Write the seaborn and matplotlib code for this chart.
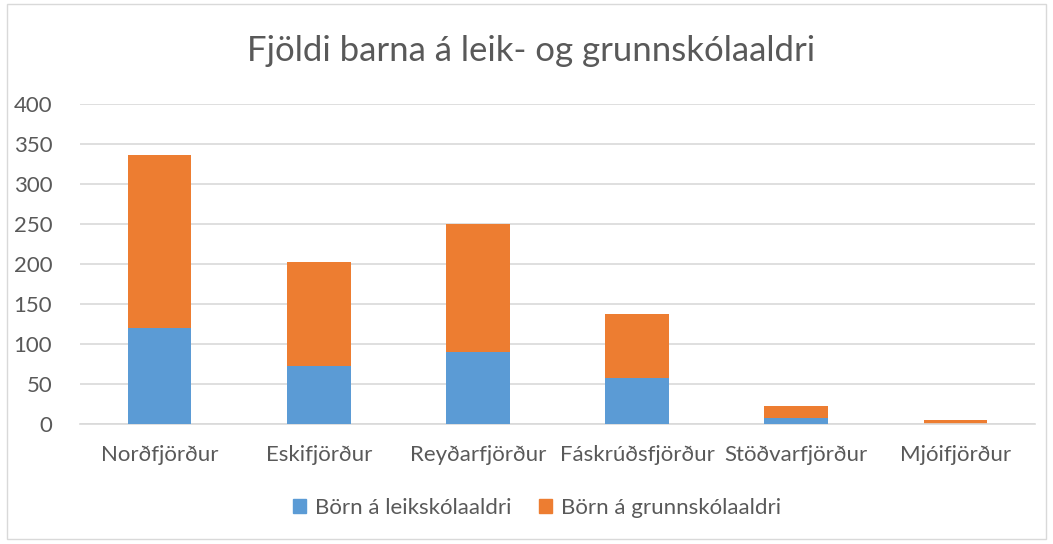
import pandas as pd
import matplotlib
matplotlib.use("Agg")
import matplotlib.pyplot as plt
import seaborn as sns
from matplotlib.patches import Patch, Rectangle

# Data
towns = ["Norðfjörður", "Eskifjörður", "Reyðarfjörður", "Fáskrúðsfjörður",
         "Stöðvarfjörður", "Mjóifjörður"]
leikskoli = [120, 73, 90, 57, 7, 0]
grunnskoli = [216, 130, 160, 80, 15, 5]

df = pd.DataFrame({"town": towns, "leik": leikskoli, "grunn": grunnskoli})
df["total"] = df["leik"] + df["grunn"]

blue = "#5B9BD5"
orange = "#ED7D31"
grey = "#595959"

sns.set_style("white")
plt.rcParams["font.family"] = ["Lato", "DejaVu Sans"]

fig = plt.figure(figsize=(10.53, 5.44), dpi=100)
ax = fig.add_axes([0.076, 0.2206, 0.907, 0.5882])

# stacked bars: total (orange) drawn first, blue part on top of it
sns.barplot(data=df, x="town", y="total", color=orange, width=0.4,
            saturation=1, linewidth=0, ax=ax, zorder=2)
sns.barplot(data=df, x="town", y="leik", color=blue, width=0.4,
            saturation=1, linewidth=0, ax=ax, zorder=3)

ax.set_ylim(0, 400)
ax.set_yticks(range(0, 401, 50))
ax.set_xlim(-0.5, len(towns) - 0.5)
ax.yaxis.grid(True, color="#D9D9D9", linewidth=1.2, zorder=0)
ax.set_axisbelow(True)
for s in ["top", "right", "left"]:
    ax.spines[s].set_visible(False)
ax.spines["bottom"].set_color("#D9D9D9")
ax.spines["bottom"].set_linewidth(1.2)
ax.set_xlabel("")
ax.set_ylabel("")
ax.tick_params(axis="both", length=0, labelsize=16, labelcolor=grey)
ax.tick_params(axis="x", pad=15)
ax.tick_params(axis="y", pad=20)

fig.suptitle("Fjöldi barna á leik- og grunnskólaaldri", x=0.504, y=0.935,
             fontsize=25, color=grey)

handles = [Patch(color=blue, label="Börn á leikskólaaldri"),
           Patch(color=orange, label="Börn á grunnskólaaldri")]
fig.legend(handles=handles, loc="center", bbox_to_anchor=(0.51, 0.066),
           ncol=2, frameon=False, fontsize=16, handlelength=0.6,
           handleheight=0.6, handletextpad=0.4, columnspacing=1.2,
           labelcolor=grey)

fig.patches.append(Rectangle((0.007, 0.01), 0.986, 0.982, transform=fig.transFigure,
                             fill=False, edgecolor="#D9D9D9", linewidth=1))

fig.savefig("out.png", dpi=100)
